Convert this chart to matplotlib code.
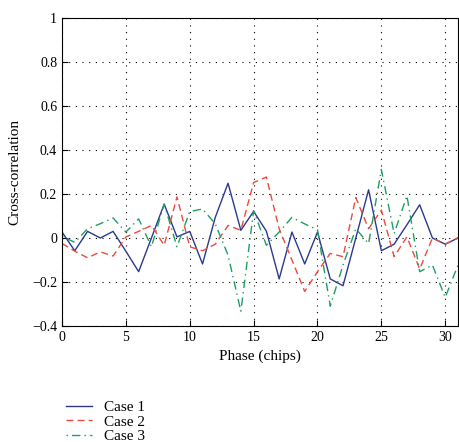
import matplotlib
matplotlib.use("Agg")
import matplotlib.pyplot as plt

plt.rcParams['font.family'] = ['Liberation Serif', 'DejaVu Serif']

phase = list(range(32))

case1 = [0.027, -0.058, 0.03, 0.0, 0.03, -0.06, -0.153, 0.0, 0.154, 0.005,
         0.03, -0.118, 0.094, 0.249, 0.035, 0.121, 0.031, -0.186, 0.027, -0.118,
         0.027, -0.186, -0.217, 0.0, 0.219, -0.058, -0.028, 0.06, 0.151, 0.0,
         -0.028, 0.0]
case2 = [-0.025, -0.06, -0.09, -0.063, -0.082, 0.005, 0.03, 0.057, -0.033, 0.187,
         -0.04, -0.058, -0.028, 0.057, 0.035, 0.252, 0.277, 0.042, -0.1, -0.243,
         -0.153, -0.07, -0.085, 0.184, 0.042, 0.127, -0.085, 0.005, -0.141, 0.0,
         -0.028, 0.0]
case3 = [0.008, -0.02, 0.042, 0.065, 0.091, 0.027, 0.087, -0.04, 0.154, -0.04,
         0.12, 0.132, 0.064, -0.078, -0.333, 0.124, -0.033, 0.027, 0.094, 0.064,
         0.037, -0.31, -0.123, 0.042, -0.025, 0.311, 0.02, 0.192, -0.153, -0.123,
         -0.27, -0.123]

fig = plt.figure(figsize=(4.6, 4.42), dpi=100)
ax = fig.add_axes([62 / 460, 1 - 326 / 442, 396 / 460, 308 / 442])

ax.plot(phase, case1, color='#2b3990', lw=1.0, label='Case 1')
ax.plot(phase, case2, color='#ec4a3c', lw=1.0, ls=(0, (5, 3)), label='Case 2')
ax.plot(phase, case3, color='#1f9e62', lw=1.0, ls=(0, (1, 3, 6, 3)), label='Case 3')

ax.set_xlim(0, 31)
ax.set_ylim(-0.4, 1)
ax.set_xticks([0, 5, 10, 15, 20, 25, 30])
ax.set_yticks([-0.4, -0.2, 0, 0.2, 0.4, 0.6, 0.8, 1])
ax.set_yticklabels(['−0.4', '−0.2', '0', '0.2', '0.4', '0.6', '0.8', '1'])
ax.tick_params(direction='in', labelsize=10, length=4)
ax.grid(True, color='black', ls=(0, (1, 5)), lw=0.8)
for s in ax.spines.values():
    s.set_linewidth(0.8)

ax.set_xlabel('Phase (chips)', fontsize=11)
ax.set_ylabel('Cross-correlation', fontsize=11, labelpad=8)

ax.legend(loc='upper left', bbox_to_anchor=(-0.005, -0.222), frameon=False,
          fontsize=11, handlelength=1.7, handletextpad=0.8,
          labelspacing=0.05, borderaxespad=0)

fig.savefig('out.png', dpi=100)
